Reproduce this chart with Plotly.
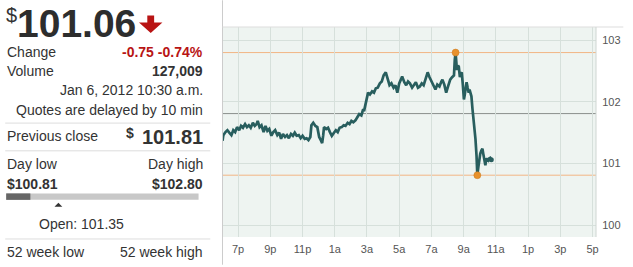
import plotly.graph_objects as go
from datetime import datetime

# ---------------- data ----------------
times = [
    "18:02", "18:05", "18:13", "18:20", "18:27", "18:35", "18:42", "18:49", "18:56",
    "19:04", "19:11", "19:18", "19:26", "19:33", "19:40", "19:47", "19:55",
    "20:02", "20:09", "20:13", "20:20", "20:27", "20:35", "20:42", "20:49", "20:56",
    "21:04", "21:11", "21:18", "21:26", "21:33", "21:40", "21:47", "21:55",
    "22:02", "22:09", "22:17", "22:24", "22:31", "22:38", "22:46", "22:53",
    "23:00", "23:08", "23:15", "23:22", "23:29", "23:33", "23:40", "23:48", "23:55",
    "00:02", "00:09", "00:13", "00:17", "00:20", "00:28", "00:35", "00:42", "00:49", "00:57",
    "01:04", "01:11", "01:18", "01:26", "01:33", "01:40", "01:48", "01:55",
    "02:02", "02:09", "02:17", "02:24", "02:31", "02:39", "02:46", "02:49", "02:57",
    "03:04", "03:11", "03:19", "03:26", "03:33", "03:40", "03:48", "03:55",
    "04:02", "04:10", "04:17", "04:24", "04:31", "04:39", "04:46", "04:53",
    "05:00", "05:08", "05:11", "05:19", "05:26", "05:33", "05:40", "05:48", "05:55",
    "06:02", "06:10", "06:17", "06:24", "06:31", "06:39", "06:46", "06:53",
    "07:01", "07:08", "07:15", "07:22", "07:30", "07:37", "07:41", "07:48", "07:55",
    "08:02", "08:10", "08:17", "08:24", "08:27", "08:30", "08:35", "08:39", "08:42",
    "08:46", "08:50", "08:53", "08:57", "09:01", "09:04", "09:11", "09:15", "09:19",
    "09:22", "09:29", "09:33", "09:37", "09:40", "09:44", "09:48", "09:51", "09:55",
    "09:59", "10:02", "10:06", "10:10", "10:13", "10:17", "10:21", "10:24", "10:28",
    "10:32", "10:35", "10:39", "10:43",
]
prices = [
    101.37, 101.46, 101.51, 101.54, 101.50, 101.46, 101.54, 101.51, 101.59,
    101.54, 101.61, 101.58, 101.64, 101.59, 101.62, 101.58, 101.66,
    101.61, 101.64, 101.69, 101.59, 101.62, 101.51, 101.61, 101.53, 101.56,
    101.45, 101.51, 101.54, 101.46, 101.50, 101.40, 101.48, 101.43,
    101.46, 101.41, 101.48, 101.45, 101.50, 101.45, 101.46, 101.41,
    101.45, 101.40, 101.41, 101.38, 101.43, 101.62, 101.66, 101.61, 101.59,
    101.43, 101.37, 101.33, 101.46, 101.59, 101.56, 101.58, 101.51, 101.45, 101.50,
    101.54, 101.51, 101.58, 101.59, 101.62, 101.61, 101.66, 101.64,
    101.69, 101.67, 101.70, 101.75, 101.80, 101.78, 101.88, 101.85, 102.03,
    102.15, 102.12, 102.17, 102.15, 102.22, 102.23, 102.30, 102.33,
    102.43, 102.48, 102.36, 102.27, 102.30, 102.23, 102.27, 102.15,
    102.30, 102.38, 102.41, 102.32, 102.27, 102.33, 102.30, 102.23, 102.27,
    102.32, 102.23, 102.25, 102.30, 102.27, 102.38, 102.48, 102.40,
    102.32, 102.27, 102.20, 102.28, 102.25, 102.33, 102.36, 102.28, 102.15,
    102.25, 102.36, 102.40, 102.43, 102.68, 102.80, 102.52, 102.59, 102.57,
    102.40, 102.46, 102.48, 102.28, 102.04, 102.11, 102.32, 102.23, 102.15,
    102.20, 102.09, 101.88, 101.72, 101.56, 101.40, 101.13, 100.81, 100.95,
    101.08, 101.16, 101.21, 101.24, 101.16, 101.05, 100.97, 101.08, 101.07,
    101.05, 101.08, 101.09, 101.06,
]

last_price = 101.06
change = "-0.75"
change_pct = "-0.74%"
volume = "127,009"
quote_time = "Jan 6, 2012 10:30 a.m."
prev_close = 101.81
day_low = 100.81
day_high = 102.80
open_price = 101.35

x_tick_vals = ["2012-01-05 19:00", "2012-01-05 21:00", "2012-01-05 23:00",
               "2012-01-06 01:00", "2012-01-06 03:00", "2012-01-06 05:00",
               "2012-01-06 07:00", "2012-01-06 09:00", "2012-01-06 11:00",
               "2012-01-06 13:00", "2012-01-06 15:00", "2012-01-06 17:00"]
x_tick_text = ["7p", "9p", "11p", "1a", "3a", "5a", "7a", "9a", "11a", "1p", "3p", "5p"]
y_tick_vals = [100, 101, 102, 103]
y_tick_text = ["100", "101", "102", "103"]


def to_dt(hhmm):
    h, m = map(int, hhmm.split(":"))
    day = 5 if h >= 18 else 6
    return datetime(2012, 1, day, h, m)


xs = [to_dt(t) for t in times]
i_hi = max(range(len(prices)), key=lambda i: prices[i])
i_lo = min(range(len(prices)), key=lambda i: prices[i])

# ---------------- layout helpers (pixel -> paper) ----------------
W, H = 633, 267
PL, PR, PT, PB = 222, 605, 27, 239


def fx(px):
    return (px - PL) / (PR - PL)


def fy(py):
    return (PB - py) / (PB - PT)


FONT = "Arial, Liberation Sans, sans-serif"
TXT = "#333333"
RED = "#b81414"
LINE = "#285e5e"
ORANGE = "#e8912c"

fig = go.Figure()
fig.add_trace(go.Scatter(x=xs, y=prices, mode="lines",
                         line=dict(color=LINE, width=2.7), hoverinfo="skip",
                         showlegend=False))
fig.add_trace(go.Scatter(x=[xs[i_hi], xs[i_lo]], y=[prices[i_hi], prices[i_lo]],
                         mode="markers",
                         marker=dict(color=ORANGE, size=7,
                                     line=dict(color="#c97a20", width=0.5)),
                         showlegend=False, hoverinfo="skip"))
fig.add_trace(go.Scatter(x=[xs[-1]], y=[prices[-1]], mode="markers",
                         marker=dict(color=LINE, size=5), showlegend=False,
                         hoverinfo="skip"))

shapes = []
# reference lines inside the plot
for v, c in [(day_high, "#f2b584"), (day_low, "#f2b584"), (prev_close, "#8a8f8c")]:
    shapes.append(dict(type="line", xref="paper", yref="y", x0=0, x1=1, y0=v, y1=v,
                       line=dict(color=c, width=1), layer="below"))
# borders
shapes.append(dict(type="line", xref="paper", yref="paper", x0=fx(222.5), x1=fx(222.5),
                   y0=fy(0), y1=fy(267), line=dict(color="#cccccc", width=1)))
shapes.append(dict(type="line", xref="paper", yref="paper", x0=fx(222.5), x1=fx(633),
                   y0=fy(27), y1=fy(27), line=dict(color="#dddddd", width=1)))
shapes.append(dict(type="line", xref="paper", yref="paper", x0=fx(605), x1=fx(605),
                   y0=fy(27), y1=fy(239), line=dict(color="#cfd6d2", width=1)))
# separators in left panel
for yy in [124, 152, 241]:
    shapes.append(dict(type="line", xref="paper", yref="paper", x0=fx(0), x1=fx(210),
                       y0=fy(yy), y1=fy(yy), line=dict(color="#dddddd", width=1)))
# day range bar
bx0, bx1 = 1, 198
cur_x = bx0 + (last_price - day_low) / (day_high - day_low) * (bx1 - bx0)
open_x = bx0 + (open_price - day_low) / (day_high - day_low) * (bx1 - bx0)
shapes.append(dict(type="rect", xref="paper", yref="paper", x0=fx(bx0), x1=fx(bx1),
                   y0=fy(201.5), y1=fy(195), fillcolor="#c8c8c8", line=dict(width=0)))
shapes.append(dict(type="rect", xref="paper", yref="paper", x0=fx(bx0), x1=fx(cur_x),
                   y0=fy(201.5), y1=fy(195), fillcolor="#666666", line=dict(width=0)))


def path(pts):
    return "M " + " L ".join(f"{fx(a):.5f},{fy(b):.5f}" for a, b in pts) + " Z"


# open triangle
shapes.append(dict(type="path", xref="paper", yref="paper",
                   path=path([(open_x - 4, 208.5), (open_x + 4, 208.5), (open_x, 204.5)]),
                   fillcolor="#333333", line=dict(width=0)))
# red down arrow
AX, AY = -4, 4
shapes.append(dict(type="path", xref="paper", yref="paper",
                   path=path([(149.5 + AX, 11.5 + AY), (156.5 + AX, 11.5 + AY),
                              (156.5 + AX, 18.5 + AY), (165 + AX, 18.5 + AY),
                              (153 + AX, 29 + AY), (141 + AX, 18.5 + AY),
                              (149.5 + AX, 18.5 + AY)]),
                   fillcolor=RED, line=dict(width=0)))

ann = []


def text(px, py, s, size=14, color=TXT, bold=False, anchor="left", yanchor="middle"):
    if bold:
        s = f"<b>{s}</b>"
    ann.append(dict(x=fx(px), y=fy(py), xref="paper", yref="paper", text=s,
                    showarrow=False, xanchor=anchor, yanchor=yanchor,
                    font=dict(family=FONT, size=size, color=color), borderpad=0))


R = 203.5
text(0, 3.0, "$", size=20, yanchor="top")
text(11, 0.3, f"{last_price:.2f}", size=39, bold=True, color="#2d2d2d", yanchor="top")
text(1, 52.5, "Change", size=14)
text(R, 52.5, f"{change} {change_pct}", size=14, color=RED, bold=True, anchor="right")
text(1, 71.5, "Volume", size=14)
text(R, 71.5, volume, size=14, bold=True, anchor="right")
text(R, 91, quote_time, size=14, anchor="right")
text(R, 111, "Quotes are delayed by 10 min", size=14, anchor="right")
text(1, 137, "Previous close", size=14)
text(R, 138, f"{prev_close:.2f}", size=20, bold=True, anchor="right")
text(123, 134.5, "$", size=14, bold=True)
text(1, 165, "Day low", size=14)
text(R, 165, "Day high", size=14, anchor="right")
text(1, 185, f"${day_low:.2f}", size=14, bold=True)
text(R, 185, f"${day_high:.2f}", size=14, bold=True, anchor="right")
text(34, 226, f"Open: {open_price:.2f}", size=14)
text(1, 254, "52 week low", size=14)
text(R, 254, "52 week high", size=14, anchor="right")

fig.update_layout(
    width=W, height=H,
    margin=dict(l=PL, r=W - PR, t=PT, b=H - PB, pad=0),
    paper_bgcolor="white", plot_bgcolor="#eef4f1",
    shapes=shapes, annotations=ann, showlegend=False,
    xaxis=dict(range=["2012-01-05 18:00", "2012-01-06 17:13"],
               tickvals=x_tick_vals, ticktext=x_tick_text,
               showgrid=True, gridcolor="#d6e0db", gridwidth=1,
               zeroline=False, showline=False, ticks="outside", ticklen=2,
               tickcolor="rgba(0,0,0,0)",
               tickfont=dict(family=FONT, size=11, color="#555555"),
               fixedrange=True),
    yaxis=dict(range=[99.807, 103.215], side="right",
               tickvals=y_tick_vals, ticktext=y_tick_text,
               showgrid=True, gridcolor="#d6e0db", gridwidth=1,
               zeroline=False, showline=False, ticks="outside", ticklen=3,
               tickcolor="rgba(0,0,0,0)",
               tickfont=dict(family=FONT, size=11, color="#555555"),
               fixedrange=True),
)

fig.write_html("out.html")
